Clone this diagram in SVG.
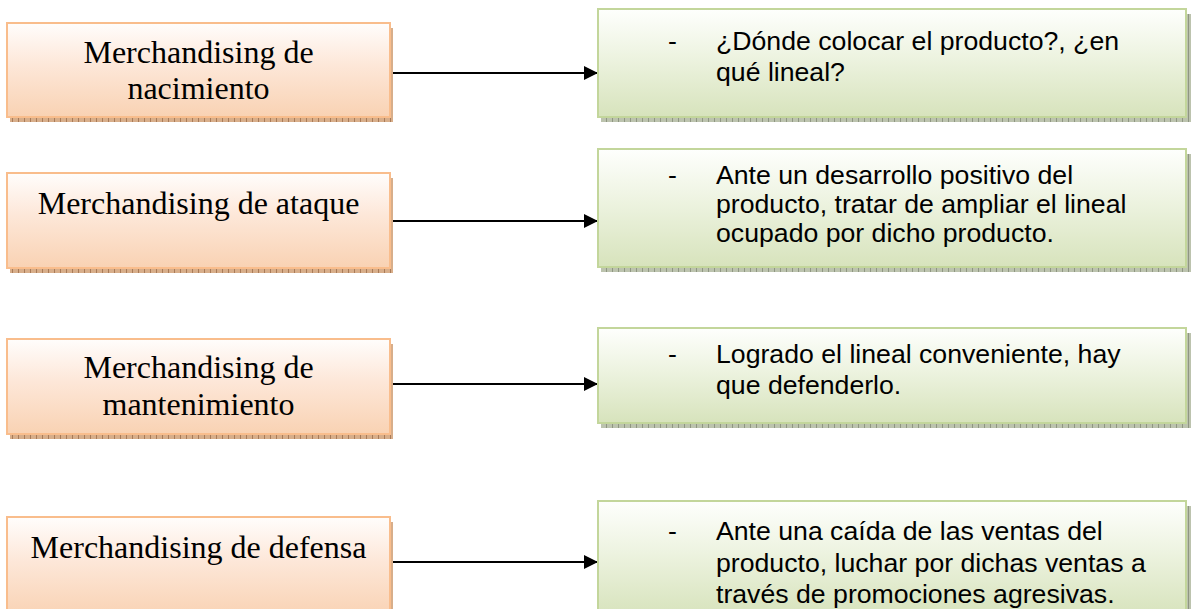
<svg xmlns="http://www.w3.org/2000/svg" width="1196" height="609" viewBox="0 0 1196 609">
<style>
.ob{fill:url(#og);stroke:#F9BD8C;stroke-width:2}
.gb{fill:url(#gg);stroke:#C3D69B;stroke-width:2}
.osh{fill:url(#ops)}
.gsh{fill:url(#gps)}
.tm{font-family:"Liberation Serif","Times New Roman",serif;font-size:32px;fill:#000;text-anchor:middle}
.ta{font-family:"Liberation Sans",Arial,sans-serif;font-size:26.67px;fill:#000}
.cn{stroke:#000;stroke-width:2;fill:none;marker-end:url(#ah)}
</style>
<defs>
<linearGradient id="og" x1="0" y1="0" x2="0" y2="1">
<stop offset="0" stop-color="#FFFDFC"/>
<stop offset="0.45" stop-color="#FDE7D8"/>
<stop offset="1" stop-color="#F9D2B3"/>
</linearGradient>
<linearGradient id="gg" x1="0" y1="0" x2="0" y2="1">
<stop offset="0" stop-color="#FEFFFD"/>
<stop offset="0.45" stop-color="#EDF3E0"/>
<stop offset="1" stop-color="#D7E3BC"/>
</linearGradient>
<pattern id="ops" width="6" height="6" patternUnits="userSpaceOnUse">
<rect width="6" height="6" fill="#D8AE8A"/>
<rect width="1" height="6" fill="#A97B58"/>
</pattern>
<pattern id="gps" width="6" height="6" patternUnits="userSpaceOnUse">
<rect width="6" height="6" fill="#BCC3AE"/>
<rect width="1" height="6" fill="#8F9682"/>
</pattern>
<marker id="ah" markerUnits="userSpaceOnUse" markerWidth="15" markerHeight="15" refX="14" refY="7" orient="auto">
<path d="M0,0 L14,7 L0,14 Z" fill="#000"/>
</marker>
</defs>

<g id="connectors">
<line class="cn" x1="390" y1="73" x2="598" y2="73"/>
<line class="cn" x1="390" y1="221" x2="598" y2="221"/>
<line class="cn" x1="390" y1="384" x2="598" y2="384"/>
<line class="cn" x1="390" y1="562" x2="598" y2="562"/>
</g>

<g id="n-nacimiento">
<rect class="osh" x="10" y="118" width="382" height="4"/>
<rect class="osh" x="391" y="28" width="2" height="94"/>
<rect class="ob" x="7" y="23" width="383" height="94"/>
<text class="tm" x="198.5" y="63">Merchandising de</text>
<text class="tm" x="198.5" y="99">nacimiento</text>
</g>

<g id="n-ataque">
<rect class="osh" x="10" y="269" width="382" height="4"/>
<rect class="osh" x="391" y="178" width="2" height="95"/>
<rect class="ob" x="7" y="173" width="383" height="95"/>
<text class="tm" x="198.5" y="214">Merchandising de ataque</text>
</g>

<g id="n-mantenimiento">
<rect class="osh" x="10" y="435" width="382" height="4"/>
<rect class="osh" x="391" y="344" width="2" height="95"/>
<rect class="ob" x="7" y="339" width="383" height="95"/>
<text class="tm" x="198.5" y="378">Merchandising de</text>
<text class="tm" x="198.5" y="415">mantenimiento</text>
</g>

<g id="n-defensa">
<rect class="osh" x="391" y="522" width="2" height="95"/>
<rect class="ob" x="7" y="517" width="383" height="100"/>
<text class="tm" x="198.5" y="558">Merchandising de defensa</text>
</g>

<g id="d-nacimiento">
<rect class="gsh" x="601" y="118" width="590" height="4"/>
<rect class="gsh" x="1186" y="14" width="5" height="108"/>
<rect class="gb" x="598" y="9" width="588" height="108"/>
<text class="ta" x="668" y="50">-</text>
<text class="ta" x="716" y="50">¿Dónde colocar el producto?, ¿en</text>
<text class="ta" x="716" y="80.5">qué lineal?</text>
</g>

<g id="d-ataque">
<rect class="gsh" x="601" y="268" width="590" height="4"/>
<rect class="gsh" x="1186" y="154" width="5" height="118"/>
<rect class="gb" x="598" y="149" width="588" height="118"/>
<text class="ta" x="668" y="184">-</text>
<text class="ta" x="716" y="184">Ante un desarrollo positivo del</text>
<text class="ta" x="716" y="213">producto, tratar de ampliar el lineal</text>
<text class="ta" x="716" y="242">ocupado por dicho producto.</text>
</g>

<g id="d-mantenimiento">
<rect class="gsh" x="601" y="424" width="590" height="4"/>
<rect class="gsh" x="1186" y="333" width="5" height="95"/>
<rect class="gb" x="598" y="328" width="588" height="95"/>
<text class="ta" x="668" y="363">-</text>
<text class="ta" x="716" y="363">Logrado el lineal conveniente, hay</text>
<text class="ta" x="716" y="393.5">que defenderlo.</text>
</g>

<g id="d-defensa">
<rect class="gsh" x="1186" y="506" width="5" height="110"/>
<rect class="gb" x="598" y="501" width="588" height="115"/>
<text class="ta" x="668" y="540">-</text>
<text class="ta" x="716" y="540">Ante una caída de las ventas del</text>
<text class="ta" x="716" y="571.5">producto, luchar por dichas ventas a</text>
<text class="ta" x="716" y="603">través de promociones agresivas.</text>
</g>
</svg>
